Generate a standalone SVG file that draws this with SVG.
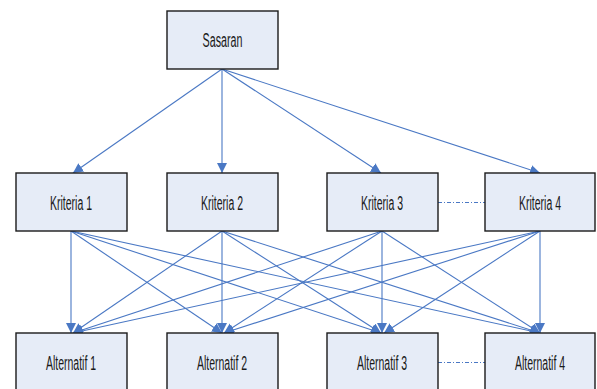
<svg xmlns="http://www.w3.org/2000/svg" width="597" height="389" viewBox="0 0 597 389">
<style>
.box{fill:#E6ECF7;stroke:#1a1a1a;stroke-width:1.4}
.lbl{font-family:"Liberation Sans",Arial,sans-serif;font-size:21px;fill:#1a1a1a;text-anchor:middle}
.e{stroke:#4A78C4;stroke-width:1.1;fill:none;marker-end:url(#ah)}
.d{stroke:#4A78C4;stroke-width:1.1;fill:none;stroke-dasharray:4 2 1 2}
</style>
<defs>
<marker id="ah" viewBox="0 0 10 10" refX="10" refY="5" markerWidth="10" markerHeight="10" markerUnits="userSpaceOnUse" orient="auto">
<path d="M0,0 L10,5 L0,10 Z" fill="#4A78C4"/>
</marker>
</defs>
<g id="connectors">
<line class="e" x1="222" y1="69" x2="73" y2="173"/>
<line class="e" x1="222" y1="69" x2="222" y2="173"/>
<line class="e" x1="222" y1="69" x2="381" y2="173"/>
<line class="e" x1="222" y1="69" x2="540" y2="173"/>
<line class="e" x1="71" y1="231" x2="71" y2="333"/>
<line class="e" x1="71" y1="231" x2="222" y2="333"/>
<line class="e" x1="71" y1="231" x2="381" y2="333"/>
<line class="e" x1="71" y1="231" x2="540" y2="333"/>
<line class="e" x1="222" y1="231" x2="73" y2="333"/>
<line class="e" x1="222" y1="231" x2="222" y2="333"/>
<line class="e" x1="222" y1="231" x2="381" y2="333"/>
<line class="e" x1="222" y1="231" x2="540" y2="333"/>
<line class="e" x1="382" y1="231" x2="73" y2="333"/>
<line class="e" x1="382" y1="231" x2="224" y2="333"/>
<line class="e" x1="382" y1="231" x2="382" y2="333"/>
<line class="e" x1="382" y1="231" x2="540" y2="333"/>
<line class="e" x1="540" y1="231" x2="73" y2="333"/>
<line class="e" x1="540" y1="231" x2="224" y2="333"/>
<line class="e" x1="540" y1="231" x2="384" y2="333"/>
<line class="e" x1="540" y1="231" x2="540" y2="333"/>
<line class="d" x1="438" y1="202.5" x2="485" y2="202.5"/>
<line class="d" x1="438" y1="362.5" x2="485" y2="362.5"/>
</g>
<g id="sasaran"><rect class="box" x="167" y="11" width="111" height="58"/><text class="lbl" transform="translate(222.5,47) scale(0.51,1)">Sasaran</text></g>
<g id="kriteria1"><rect class="box" x="16" y="173" width="111" height="58"/><text class="lbl" transform="translate(71,210) scale(0.5,1)">Kriteria 1</text></g>
<g id="kriteria2"><rect class="box" x="167" y="173" width="111" height="58"/><text class="lbl" transform="translate(222,210) scale(0.5,1)">Kriteria 2</text></g>
<g id="kriteria3"><rect class="box" x="327" y="173" width="111" height="58"/><text class="lbl" transform="translate(382,210) scale(0.5,1)">Kriteria 3</text></g>
<g id="kriteria4"><rect class="box" x="485" y="173" width="110" height="58"/><text class="lbl" transform="translate(540,210) scale(0.5,1)">Kriteria 4</text></g>
<g id="alternatif1"><rect class="box" x="16" y="333" width="111" height="70"/><text class="lbl" transform="translate(71,370) scale(0.5,1)">Alternatif 1</text></g>
<g id="alternatif2"><rect class="box" x="167" y="333" width="111" height="70"/><text class="lbl" transform="translate(222,370) scale(0.5,1)">Alternatif 2</text></g>
<g id="alternatif3"><rect class="box" x="327" y="333" width="111" height="70"/><text class="lbl" transform="translate(382,370) scale(0.5,1)">Alternatif 3</text></g>
<g id="alternatif4"><rect class="box" x="485" y="333" width="110" height="70"/><text class="lbl" transform="translate(540,370) scale(0.5,1)">Alternatif 4</text></g>
</svg>
